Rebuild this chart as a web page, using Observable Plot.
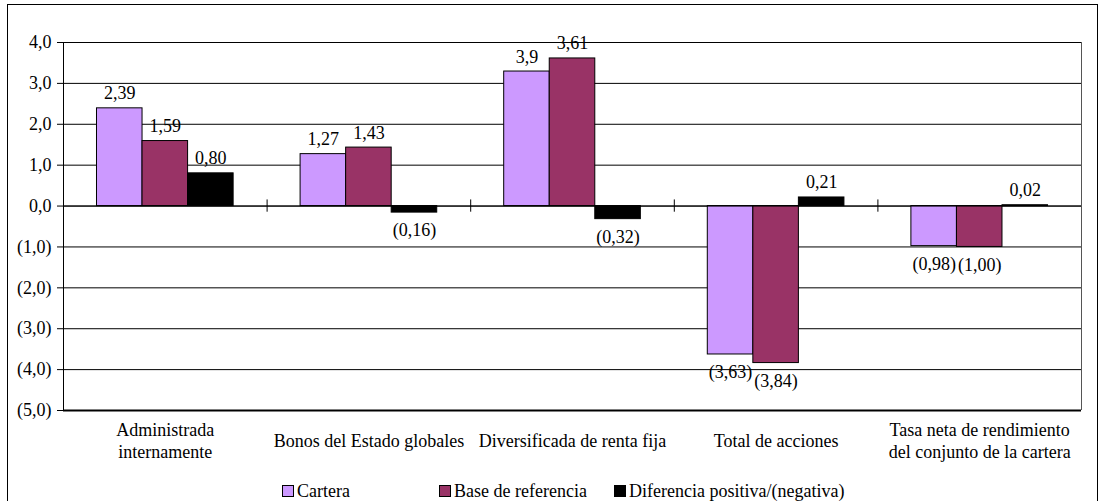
<!DOCTYPE html>
<html><head><meta charset="utf-8">
<script src="https://cdn.jsdelivr.net/npm/d3@7"></script>
<script src="https://cdn.jsdelivr.net/npm/@observablehq/plot@0.6"></script>
<style>
body{margin:0;background:#fff;font-family:'Liberation Serif',serif;color:#000}
#frame{position:absolute;left:7px;top:4px;width:1091px;height:520px;border:1px solid #000;box-sizing:border-box;overflow:hidden;background:#fff}
#chart{position:absolute;left:0;top:0}
#legend{position:absolute;top:477px;left:0;width:100%;height:18px;font-size:18px;font-family:'Liberation Serif',serif}
.item{position:absolute;top:0;display:flex;align-items:center;height:18px;line-height:18px;white-space:nowrap}
.sw{width:10px;height:10px;border:1px solid #000;margin-right:3px}
</style></head><body>
<div id="frame"><div id="chart"></div><div id="legend"></div></div>
<script>
const categories = ["Administrada\ninternamente","Bonos del Estado globales","Diversificada de renta fija","Total de acciones","Tasa neta de rendimiento\ndel conjunto de la cartera"];
const seriesNames = ["Cartera","Base de referencia","Diferencia positiva/(negativa)"];
const cartera = [2.39, 1.27, 3.29, -3.63, -0.98];
const base = [1.59, 1.43, 3.61, -3.84, -1.00];
const diferencia = [0.80, -0.16, -0.32, 0.21, 0.02];
const carteraLabels = ["2,39","1,27","3,9","(3,63)","(0,98)"];
const baseLabels = ["1,59","1,43","3,61","(3,84)","(1,00)"];
const diferenciaLabels = ["0,80","(0,16)","(0,32)","0,21","0,02"];
const yTicks = [4,3,2,1,0,-1,-2,-3,-4,-5];
const colors = ["#CC99FF","#993366","#000000"];

const FONT = "Liberation Serif";
const FS = 18;
const seriesValues = [cartera, base, diferencia];
const seriesLabels = [carteraLabels, baseLabels, diferenciaLabels];
const rows = [];
categories.forEach((c, gi) => {
  seriesNames.forEach((s, si) => {
    rows.push({gi, si, series: s, value: seriesValues[si][gi], label: seriesLabels[si][gi]});
  });
});
const OUTER = 0.1645, BW = 0.2237;
const x1 = d => d.gi + OUTER + d.si * BW;
const x2 = d => d.gi + OUTER + (d.si + 1) * BW;
const xc = d => d.gi + OUTER + (d.si + 0.5) * BW;
const fmt = v => {
  const s = Math.abs(v).toFixed(1).replace(".", ",");
  return v < 0 ? `(${s})` : s;
};

const chart = Plot.plot({
  width: 1089,
  height: 470,
  marginLeft: 55,
  marginRight: 16,
  marginTop: 37,
  marginBottom: 65,
  style: {fontFamily: FONT, fontSize: FS + "px", color: "#000", background: "transparent"},
  x: {domain: [0, categories.length], axis: null},
  y: {domain: [-5, 4], axis: null},
  color: {domain: seriesNames, range: colors},
  marks: [
    Plot.ruleY(yTicks, {stroke: "#000", strokeWidth: 1}),
    Plot.ruleY([-5], {stroke: "#000", strokeWidth: 2}),
    Plot.ruleX([0], {stroke: "#000", strokeWidth: 1}),
    Plot.ruleX([categories.length], {stroke: "#555", strokeWidth: 1}),
    Plot.rectY(rows, {x1, x2, y1: 0, y2: "value", fill: "series", stroke: "#000", strokeWidth: 1}),
    Plot.ruleY([0], {stroke: "#000", strokeWidth: 1}),
    Plot.ruleX(d3.range(1, categories.length), {y1: -0.15, y2: 0.15, stroke: "#000", strokeWidth: 1}),
    Plot.axisY({ticks: yTicks, tickFormat: fmt, tickSize: 6, tickPadding: 6, fontSize: FS, fontFamily: FONT, label: null}),
    Plot.axisX({ticks: categories.map((c, i) => i + 0.5), tickFormat: t => categories[Math.floor(t)], tickSize: 0, tickPadding: 29, lineAnchor: "middle", fontSize: FS, fontFamily: FONT, lineHeight: 1.22, label: null}),
    Plot.text(rows.filter(d => d.value >= 0), {x: xc, y: "value", text: "label", lineAnchor: "bottom", dy: -9, fontSize: FS, fontFamily: FONT, fill: "#000"}),
    Plot.text(rows.filter(d => d.value < 0), {x: xc, y: "value", text: "label", lineAnchor: "top", dy: 11, fontSize: FS, fontFamily: FONT, fill: "#000"})
  ]
});
document.getElementById("chart").appendChild(chart);

const legendLefts = [274, 431, 606];
const legend = document.getElementById("legend");
seriesNames.forEach((s, i) => {
  const it = document.createElement("div");
  it.className = "item";
  it.style.left = legendLefts[i] + "px";
  const sw = document.createElement("span");
  sw.className = "sw";
  sw.style.background = colors[i];
  it.appendChild(sw);
  it.appendChild(document.createTextNode(s));
  legend.appendChild(it);
});
</script>
</body></html>
